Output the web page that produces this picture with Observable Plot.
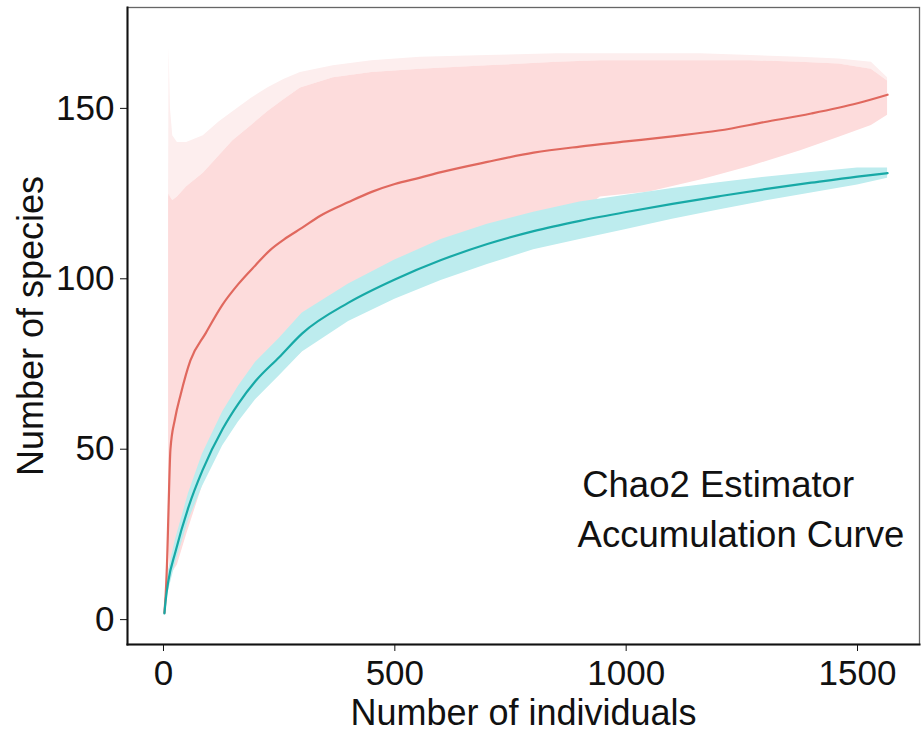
<!DOCTYPE html>
<html><head><meta charset="utf-8">
<script src="https://cdn.jsdelivr.net/npm/d3@7"></script>
<script src="https://cdn.jsdelivr.net/npm/@observablehq/plot@0.6"></script>
<style>body{margin:0;background:#fff}</style>
</head><body><div id="chart"></div>
<script>
// Accumulation curve (teal)
const accX    = [2, 5, 10, 26, 54, 84, 128, 162, 199, 250, 300, 400, 500, 600, 700, 800, 900, 1000, 1100, 1200, 1300, 1400, 1500, 1565];
const accMean = [1.8, 6, 11, 20, 33, 43.7, 56, 63.4, 70, 77, 84, 93, 99.8, 105.5, 110.2, 114, 117, 119.6, 122, 124.2, 126.3, 128.2, 130, 131];
const accLow  = [1.0, 4, 8, 16.5, 29, 39, 51, 58, 64.5, 71.5, 78.5, 87.5, 94, 99.5, 104.2, 108.5, 111.5, 114.5, 117.5, 120.2, 122.8, 125.2, 127.5, 129.5];
const accHigh = [2.6, 8, 14, 23.5, 37, 48.5, 61, 68.5, 75.5, 82.5, 90, 98.5, 105.5, 111.5, 116, 119.5, 122.5, 124.5, 126.5, 128.2, 129.8, 131.2, 132.5, 132.5];

// Chao2 estimator (red)
const chaoX    = [2, 5, 8, 11, 15, 25, 37, 58, 91, 128, 162, 199, 231, 260, 300, 339, 400, 450, 500, 555, 600, 700, 800, 900, 1000, 1100, 1200, 1300, 1400, 1500, 1565];
const chaoMean = [2, 8, 18, 33, 50, 59, 66, 76, 84, 92.5, 98.5, 104, 108.5, 111.5, 115, 118.5, 122.5, 125.5, 127.8, 129.7, 131.3, 134.3, 137, 138.8, 140.3, 141.8, 143.5, 146, 148.5, 151.5, 154];

// Chao2 confidence band
const bandX    = [11, 12, 15, 20, 30, 50, 86, 120, 150, 190, 225, 260, 296, 367, 450, 555, 700, 850, 944, 1050, 1161, 1270, 1377, 1460, 1530, 1565];
const bandLow  = [30, 20, 15, 14, 16, 25, 40, 50, 57, 64, 70, 74, 78, 88, 94, 100, 107, 114, 124, 125.5, 129, 133, 137.6, 141.5, 145, 148];
const bandHigh = [124, 125, 124, 123, 124, 127, 131, 136, 140.5, 145, 149, 152.5, 156, 159, 160.5, 161.5, 162.5, 163.5, 164, 164, 164, 164, 163.5, 163, 161.5, 158];
const bandFuzz = [126, 168, 150, 142, 140, 140, 142, 146, 149, 153, 156, 158.5, 160.5, 162.5, 164, 165, 165.5, 166, 166, 166, 166, 165.5, 165, 164.5, 163.5, 159];

const xTicks = [0, 500, 1000, 1500];
const yTicks = [0, 50, 100, 150];
const labels = ["Chao2 Estimator", "Accumulation Curve"];

const acc  = accX.map((x, i) => ({x, mean: accMean[i], lo: accLow[i], hi: accHigh[i]}));
const chao = chaoX.map((x, i) => ({x, mean: chaoMean[i]}));
const band = bandX.map((x, i) => ({x, lo: bandLow[i], hi: bandHigh[i], fuzz: bandFuzz[i]}));

const font = "'Liberation Sans', Arial, Helvetica, sans-serif";

const chart = Plot.plot({
  width: 922,
  height: 738,
  marginLeft: 127,
  marginRight: 3,
  marginTop: 7,
  marginBottom: 94,
  style: {fontFamily: font, color: "#111", background: "#fff"},
  x: {domain: [-77.8, 1634]},
  y: {domain: [-7.3, 179.6]},
  marks: [
    Plot.areaY(band, {x: "x", y1: "hi", y2: "fuzz", fill: "#fdeeee", curve: "linear"}),
    Plot.areaY(band, {x: "x", y1: "lo", y2: "hi", fill: "#fddcdc", curve: "linear"}),
    Plot.areaY(acc, {x: "x", y1: "lo", y2: "hi", fill: "#bdecee", curve: "linear"}),
    Plot.line(chao, {x: "x", y: "mean", stroke: "#e0685e", strokeWidth: 2.2, curve: "monotone-x"}),
    Plot.line(acc, {x: "x", y: "mean", stroke: "#17a9a6", strokeWidth: 2.2, curve: "monotone-x"}),
    Plot.text([labels[0]], {x: 905, y: 39.3, text: d => d, textAnchor: "start", fontSize: 36.5, fill: "#111"}),
    Plot.text([labels[1]], {x: 895, y: 24.7, text: d => d, textAnchor: "start", fontSize: 36.5, fill: "#111"}),
    Plot.frame({stroke: "#666", strokeWidth: 1.3}),
    Plot.frame({anchor: "left", stroke: "#111", strokeWidth: 2}),
    Plot.frame({anchor: "bottom", stroke: "#111", strokeWidth: 2}),
    Plot.axisX({ticks: xTicks, tickSize: 7, tickPadding: 9, fontSize: 35, label: null, tickFormat: d => String(d)}),
    Plot.axisY({ticks: yTicks, tickSize: 7, tickPadding: 6, fontSize: 35, label: null, tickFormat: d => String(d)}),
    Plot.text(["Number of individuals"], {frameAnchor: "bottom", dy: 69, lineAnchor: "middle", fontSize: 36, text: d => d, fill: "#111"}),
    Plot.text(["Number of species"], {frameAnchor: "left", dx: -96, rotate: -90, textAnchor: "middle", lineAnchor: "middle", fontSize: 36, text: d => d, fill: "#111"})
  ]
});
document.getElementById("chart").appendChild(chart);
</script>
</body></html>
